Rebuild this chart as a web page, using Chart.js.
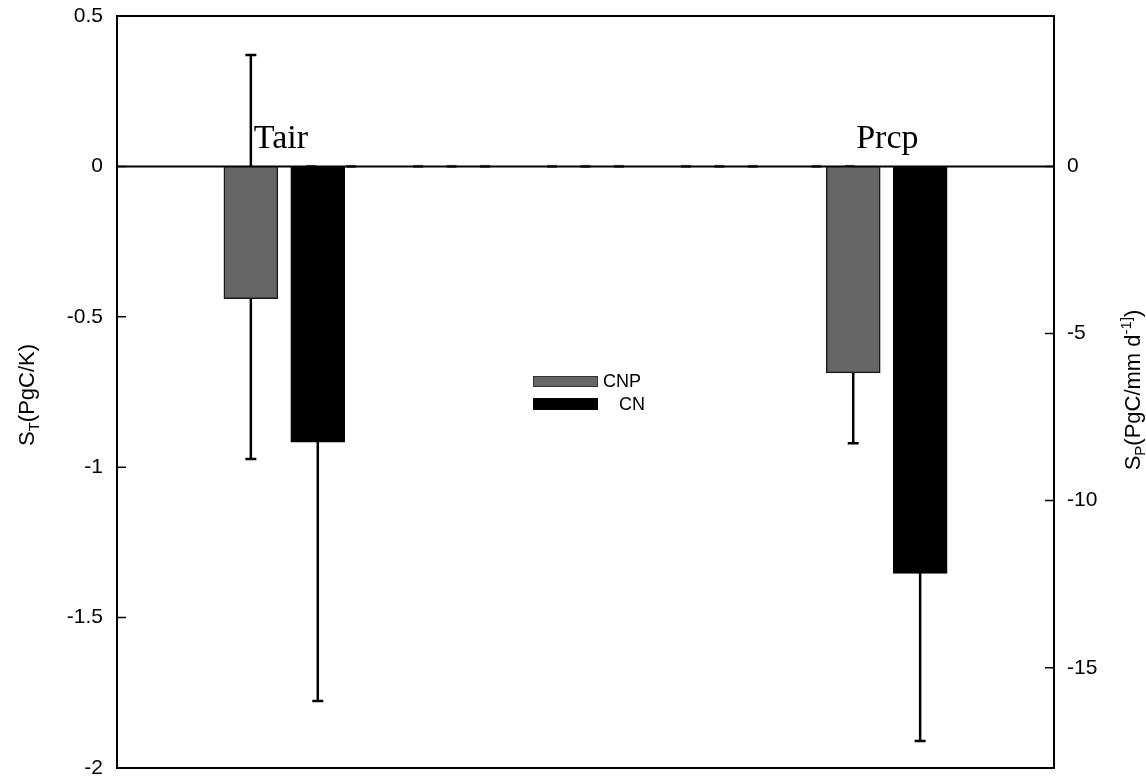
<!DOCTYPE html>
<html><head><meta charset="utf-8">
<script src="https://cdn.jsdelivr.net/npm/chart.js@4"></script>
<style>html,body{margin:0;padding:0;background:#fff}#wrap{width:1146px;height:779px;position:relative}</style>
</head><body><div id="wrap"><canvas id="c" width="1146" height="779"></canvas></div>
<script>
// ---------- data ----------
const categories = ['Tair', 'Prcp'];
const seriesNames = ['CNP', 'CN'];
// bar slots along the x axis (slot units)
const categorySlots = [2, 11];
const seriesSlotOffset = [0, 1];
const xSlotRange = [0, 14];
// Tair sensitivity (left axis, PgC/K)
const tairValues = [-0.44, -0.917];
const tairErrLow = [-0.973, -1.777];
const tairErrHigh = [0.37, -0.057];
// Prcp sensitivity (right axis, PgC/mm d-1)
const prcpValues = [-6.18, -12.18];
const prcpErrLow = [-8.28, -17.19];
const prcpErrHigh = [-4.08, -7.17];
// axes
const leftTicks = [0.5, 0, -0.5, -1, -1.5, -2];
const rightTicks = [0, -5, -10, -15];
const leftRange = [-2, 0.5];
const rightRange = [-18, 4.5];
// small zero-valued caps along the zero line
const zeroMarkSlots = [2.9, 3.5, 4.5, 5, 5.5, 6.5, 7, 7.5, 8.5, 9, 9.5, 10.45, 10.95];

// ---------- styles ----------
const fillColors = ['#666666', '#000000'];
const edgeColors = ['#1a1a1a', '#000000'];
const SANS = '"Liberation Sans", Arial, Helvetica, sans-serif';
const SERIF = '"Liberation Serif", "Times New Roman", serif';
Chart.defaults.font.family = SANS;
Chart.defaults.color = '#000';

const datasets = [];
seriesNames.forEach((s, i) => {
  datasets.push({
    label: s, cat: 0, series: i,
    data: [{x: categorySlots[0] + seriesSlotOffset[i], y: tairValues[i]}],
    errLow: [tairErrLow[i]], errHigh: [tairErrHigh[i]],
    yAxisID: 'yL', backgroundColor: fillColors[i], borderColor: edgeColors[i],
    borderWidth: 1.5, barThickness: 54, grouped: false
  });
});
seriesNames.forEach((s, i) => {
  datasets.push({
    label: s, cat: 1, series: i,
    data: [{x: categorySlots[1] + seriesSlotOffset[i], y: prcpValues[i]}],
    errLow: [prcpErrLow[i]], errHigh: [prcpErrHigh[i]],
    yAxisID: 'yR', backgroundColor: fillColors[i], borderColor: edgeColors[i],
    borderWidth: 1.5, barThickness: 54, grouped: false
  });
});
datasets.push({
  type: 'scatter', label: 'marks', isMarks: true,
  data: zeroMarkSlots.map(x => ({x: x, y: 0})),
  yAxisID: 'yL', pointStyle: 'line', pointRadius: 5, pointHoverRadius: 5,
  borderColor: '#5a5a5a', borderWidth: 3, order: 5
});

function richText(ctx, parts, cx, cy, base) {
  ctx.save();
  ctx.translate(cx, cy);
  ctx.rotate(-Math.PI / 2);
  let total = 0;
  parts.forEach(p => {
    p.size = p.k ? Math.round(base * 0.68) : base;
    ctx.font = p.size + 'px ' + SANS;
    p.w = ctx.measureText(p.t).width;
    total += p.w;
  });
  let x = -total / 2;
  const bl = base * 0.36;
  ctx.fillStyle = '#000';
  ctx.textBaseline = 'alphabetic';
  ctx.textAlign = 'left';
  parts.forEach(p => {
    ctx.font = p.size + 'px ' + SANS;
    let y = bl;
    if (p.k === 'sub') y = bl + 5;
    if (p.k === 'sup') y = bl - 9;
    ctx.fillText(p.t, x, y);
    x += p.w;
  });
  ctx.restore();
}

const errPlugin = {
  id: 'errbars',
  beforeDatasetsDraw(chart) {
    const ctx = chart.ctx;
    chart.data.datasets.forEach((ds, i) => {
      if (!ds.errLow) return;
      const meta = chart.getDatasetMeta(i);
      const ys = chart.scales[ds.yAxisID];
      meta.data.forEach((bar, j) => {
        const x = bar.x;
        const y1 = ys.getPixelForValue(ds.errHigh[j]);
        const y2 = ys.getPixelForValue(ds.errLow[j]);
        ctx.save();
        ctx.strokeStyle = '#000';
        ctx.lineWidth = 2.5;
        ctx.beginPath();
        ctx.moveTo(x, y1); ctx.lineTo(x, y2);
        ctx.moveTo(x - 5.5, y1); ctx.lineTo(x + 5.5, y1);
        ctx.moveTo(x - 5.5, y2); ctx.lineTo(x + 5.5, y2);
        ctx.stroke();
        ctx.restore();
      });
    });
  }
};

const decorPlugin = {
  id: 'decor',
  afterDatasetsDraw(chart) {
    const ctx = chart.ctx;
    const a = chart.chartArea;
    const yL = chart.scales.yL, yR = chart.scales.yR;
    ctx.save();
    // zero line
    const y0 = yL.getPixelForValue(0);
    ctx.strokeStyle = '#000';
    ctx.lineWidth = 2;
    ctx.beginPath(); ctx.moveTo(a.left, y0); ctx.lineTo(a.right, y0); ctx.stroke();
    // frame
    ctx.lineWidth = 2;
    ctx.strokeRect(a.left, a.top, a.right - a.left, a.bottom - a.top);
    // inside ticks
    ctx.lineWidth = 1.5;
    ctx.beginPath();
    yL.ticks.forEach(t => { const y = yL.getPixelForValue(t.value); ctx.moveTo(a.left, y); ctx.lineTo(a.left + 9, y); });
    yR.ticks.forEach(t => { const y = yR.getPixelForValue(t.value); ctx.moveTo(a.right - 9, y); ctx.lineTo(a.right, y); });
    ctx.stroke();
    // category labels
    ctx.font = '34px ' + SERIF;
    ctx.fillStyle = '#000';
    ctx.textAlign = 'left';
    ctx.textBaseline = 'alphabetic';
    categories.forEach((c, ci) => {
      const idx = chart.data.datasets.findIndex(d => d.cat === ci && d.series === 0);
      const bar = chart.getDatasetMeta(idx).data[0];
      ctx.fillText(c, bar.x + 3, y0 - 18);
    });
    // legend
    const lx = 533, lw = 65;
    const rows = [{y: 376, h: 11, tx: 603}, {y: 398, h: 12, tx: 619}];
    seriesNames.forEach((s, i) => {
      const r = rows[i];
      ctx.fillStyle = fillColors[i];
      ctx.fillRect(lx, r.y, lw, r.h);
      ctx.strokeStyle = i === 0 ? '#333' : '#000';
      ctx.lineWidth = 1;
      ctx.strokeRect(lx + 0.5, r.y + 0.5, lw - 1, r.h - 1);
      ctx.fillStyle = '#000';
      ctx.font = '18px ' + SANS;
      ctx.textBaseline = 'middle';
      ctx.fillText(s, r.tx, r.y + r.h / 2 + 1);
    });
    ctx.restore();
    // axis titles
    richText(ctx, [{t: 'S'}, {t: 'T', k: 'sub'}, {t: '(PgC/K)'}], 26, 395, 22);
    richText(ctx, [{t: 'S'}, {t: 'P', k: 'sub'}, {t: '(PgC/mm d'}, {t: '-1]', k: 'sup'}, {t: ')'}], 1132, 390, 22);
  }
};

function fitY(w) {
  return s => { s.width = w; s.paddingTop = 0; s.paddingBottom = 0; };
}

new Chart(document.getElementById('c'), {
  type: 'bar',
  data: {datasets: datasets},
  options: {
    responsive: false,
    animation: false,
    events: [],
    layout: {padding: {top: 16, bottom: 11, left: 0, right: 0}},
    plugins: {legend: {display: false}, tooltip: {enabled: false}},
    scales: {
      x: {type: 'linear', offset: false, min: xSlotRange[0], max: xSlotRange[1], display: false},
      yL: {
        type: 'linear', position: 'left', min: leftRange[0], max: leftRange[1],
        afterBuildTicks: s => { s.ticks = leftTicks.map(v => ({value: v})); },
        afterFit: fitY(117),
        grid: {display: false, drawTicks: false}, border: {display: false},
        ticks: {padding: 14, color: '#000', font: {size: 21}, callback: v => String(v)}
      },
      yR: {
        type: 'linear', position: 'right', min: rightRange[0], max: rightRange[1],
        afterBuildTicks: s => { s.ticks = rightTicks.map(v => ({value: v})); },
        afterFit: fitY(92),
        grid: {display: false, drawTicks: false}, border: {display: false},
        ticks: {padding: 13, color: '#000', font: {size: 21}, callback: v => String(v)}
      }
    }
  },
  plugins: [errPlugin, decorPlugin]
});
</script>
</body></html>
